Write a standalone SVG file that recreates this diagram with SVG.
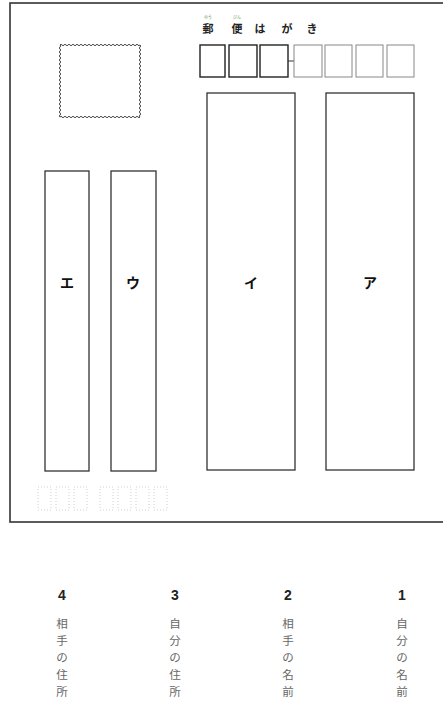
<svg xmlns="http://www.w3.org/2000/svg" width="443" height="701" viewBox="0 0 443 701">
<style>
.jp{font-family:"Noto Sans CJK JP","Noto Sans",sans-serif}
.col{fill:#fff;stroke:#333;stroke-width:1.3}
.kana{font-size:14px;font-weight:700;fill:#111;text-anchor:middle}
.zipA{fill:#fff;stroke:#222;stroke-width:1.4}
.zipB{fill:#fff;stroke:#888;stroke-width:1}
.szip{fill:none;stroke:#c4c4c4;stroke-width:0.8;stroke-dasharray:1 2}
.num{font-family:"Liberation Sans",Arial,sans-serif;font-size:14px;font-weight:700;fill:#222;text-anchor:middle}
.vt{font-size:11.5px;fill:#666;text-anchor:middle}
</style>
<rect width="443" height="701" fill="#fff"/>
<g id="card">
<rect x="10" y="3" width="440" height="519" fill="none" stroke="#333" stroke-width="1.6"/>
</g>
<g id="title" class="jp">
<text x="208" y="19" font-size="4" fill="#6a9a50" text-anchor="middle">ゆう</text>
<text x="237" y="19" font-size="4" fill="#6a9a50" text-anchor="middle">びん</text>
<text y="33" font-size="11" font-weight="700" fill="#222" text-anchor="middle"><tspan x="208">郵</tspan><tspan x="237">便</tspan><tspan x="260">は</tspan><tspan x="287">が</tspan><tspan x="312">き</tspan></text>
</g>
<g id="zipcode">
<rect class="zipA" x="200" y="45" width="25" height="32"/>
<rect class="zipA" x="229" y="45" width="28" height="32"/>
<rect class="zipA" x="260" y="45" width="28" height="32"/>
<line x1="288" y1="61" x2="294" y2="61" stroke="#333" stroke-width="1"/>
<rect class="zipB" x="294" y="45" width="28" height="32"/>
<rect class="zipB" x="325" y="45" width="27" height="32"/>
<rect class="zipB" x="356" y="45" width="27" height="32"/>
<rect class="zipB" x="387" y="45" width="27" height="32"/>
</g>
<g id="stamp">
<path fill="none" stroke="#444" stroke-width="1" d="M60,45 q1,-1.5 2,0 t2,0 t2,0 t2,0 t2,0 t2,0 t2,0 t2,0 t2,0 t2,0 t2,0 t2,0 t2,0 t2,0 t2,0 t2,0 t2,0 t2,0 t2,0 t2,0 t2,0 t2,0 t2,0 t2,0 t2,0 t2,0 t2,0 t2,0 t2,0 t2,0 t2,0 t2,0 t2,0 t2,0 t2,0 t2,0 t2,0 t2,0 t2,0 t2,0 q1.5,1 0,2 t0,2 t0,2 t0,2 t0,2 t0,2 t0,2 t0,2 t0,2 t0,2 t0,2 t0,2 t0,2 t0,2 t0,2 t0,2 t0,2 t0,2 t0,2 t0,2 t0,2 t0,2 t0,2 t0,2 t0,2 t0,2 t0,2 t0,2 t0,2 t0,2 t0,2 t0,2 t0,2 t0,2 t0,2 t0,2 q-1,1.5 -2,0 t-2,0 t-2,0 t-2,0 t-2,0 t-2,0 t-2,0 t-2,0 t-2,0 t-2,0 t-2,0 t-2,0 t-2,0 t-2,0 t-2,0 t-2,0 t-2,0 t-2,0 t-2,0 t-2,0 t-2,0 t-2,0 t-2,0 t-2,0 t-2,0 t-2,0 t-2,0 t-2,0 t-2,0 t-2,0 t-2,0 t-2,0 t-2,0 t-2,0 t-2,0 t-2,0 t-2,0 t-2,0 t-2,0 t-2,0 q-1.5,-1 0,-2 t0,-2 t0,-2 t0,-2 t0,-2 t0,-2 t0,-2 t0,-2 t0,-2 t0,-2 t0,-2 t0,-2 t0,-2 t0,-2 t0,-2 t0,-2 t0,-2 t0,-2 t0,-2 t0,-2 t0,-2 t0,-2 t0,-2 t0,-2 t0,-2 t0,-2 t0,-2 t0,-2 t0,-2 t0,-2 t0,-2 t0,-2 t0,-2 t0,-2 t0,-2 t0,-2 Z"/>
</g>
<g id="col-e">
<rect class="col" x="45" y="171" width="44" height="300"/>
<text class="jp kana" x="67" y="288">エ</text>
</g>
<g id="col-u">
<rect class="col" x="111" y="171" width="45" height="300"/>
<text class="jp kana" x="133" y="288">ウ</text>
</g>
<g id="col-i">
<rect class="col" x="207" y="93" width="88" height="377"/>
<text class="jp kana" x="251" y="288">イ</text>
</g>
<g id="col-a">
<rect class="col" x="326" y="93" width="88" height="377"/>
<text class="jp kana" x="370" y="288">ア</text>
</g>
<g id="sender-zip">
<rect class="szip" x="38" y="487" width="13" height="23"/>
<rect class="szip" x="56" y="487" width="13" height="23"/>
<rect class="szip" x="74" y="487" width="13" height="23"/>
<rect class="szip" x="100" y="487" width="13" height="23"/>
<rect class="szip" x="118" y="487" width="13" height="23"/>
<rect class="szip" x="136" y="487" width="13" height="23"/>
<rect class="szip" x="154" y="487" width="13" height="23"/>
</g>
<g id="label-4">
<text class="num" x="62" y="600">4</text>
<text class="jp vt" y="628"><tspan x="62">相</tspan><tspan x="62" dy="17">手</tspan><tspan x="62" dy="17">の</tspan><tspan x="62" dy="17">住</tspan><tspan x="62" dy="17">所</tspan></text>
</g>
<g id="label-3">
<text class="num" x="175" y="600">3</text>
<text class="jp vt" y="628"><tspan x="175">自</tspan><tspan x="175" dy="17">分</tspan><tspan x="175" dy="17">の</tspan><tspan x="175" dy="17">住</tspan><tspan x="175" dy="17">所</tspan></text>
</g>
<g id="label-2">
<text class="num" x="288" y="600">2</text>
<text class="jp vt" y="628"><tspan x="288">相</tspan><tspan x="288" dy="17">手</tspan><tspan x="288" dy="17">の</tspan><tspan x="288" dy="17">名</tspan><tspan x="288" dy="17">前</tspan></text>
</g>
<g id="label-1">
<text class="num" x="402" y="600">1</text>
<text class="jp vt" y="628"><tspan x="402">自</tspan><tspan x="402" dy="17">分</tspan><tspan x="402" dy="17">の</tspan><tspan x="402" dy="17">名</tspan><tspan x="402" dy="17">前</tspan></text>
</g>
</svg>
